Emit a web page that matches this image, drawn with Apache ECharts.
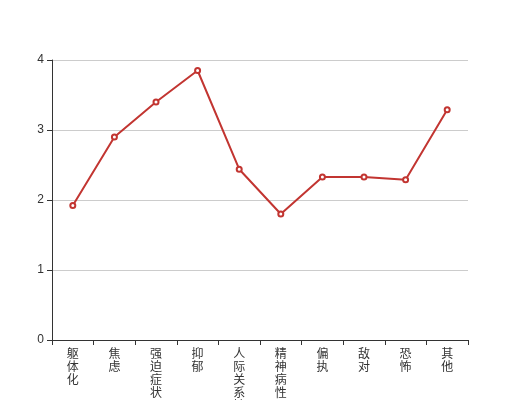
<!DOCTYPE html>
<html><head><meta charset="utf-8">
<script src="https://cdn.jsdelivr.net/npm/echarts@6/dist/echarts.min.js"></script>
<style>html,body{margin:0;padding:0;background:#fff}#c{width:520px;height:400px}</style>
</head><body><div id="c"></div>
<script>
const categories = ['躯体化','焦虑','强迫症状','抑郁','人际关系敏感','精神病性','偏执','敌对','恐怖','其他'];
const values = [1.92, 2.90, 3.40, 3.85, 2.44, 1.80, 2.33, 2.33, 2.29, 3.29];
const yTicks = [0, 1, 2, 3, 4];

const chart = echarts.init(document.getElementById('c'), null, {renderer: 'canvas'});
chart.setOption({
  animation: false,
  grid: {left: 52, right: 52, top: 60, bottom: 60, containLabel: false, outerBoundsMode: 'none'},
  xAxis: {
    type: 'category',
    data: categories,
    boundaryGap: true,
    axisLine: {lineStyle: {color: '#333', width: 1}},
    axisTick: {show: true, alignWithLabel: false, length: 5, lineStyle: {color: '#333'}},
    axisLabel: {
      interval: 0, color: '#333', fontSize: 12, lineHeight: 13, margin: 7,
      fontFamily: 'Noto Sans CJK SC',
      formatter: v => v.split('').join('\n'),
      verticalAlign: 'top'
    },
    splitLine: {show: false}
  },
  yAxis: {
    type: 'value',
    min: yTicks[0], max: yTicks[yTicks.length - 1], interval: 1,
    axisLine: {show: true, lineStyle: {color: '#333', width: 1}},
    axisTick: {show: true, length: 5, lineStyle: {color: '#333'}},
    axisLabel: {color: '#333', fontSize: 12, margin: 8, fontFamily: 'sans-serif'},
    splitLine: {show: true, lineStyle: {color: '#ccc'}}
  },
  series: [{
    type: 'line',
    data: values,
    symbol: 'emptyCircle',
    symbolSize: 5,
    itemStyle: {color: '#c23531'},
    lineStyle: {color: '#c23531', width: 2}
  }]
});
</script></body></html>
